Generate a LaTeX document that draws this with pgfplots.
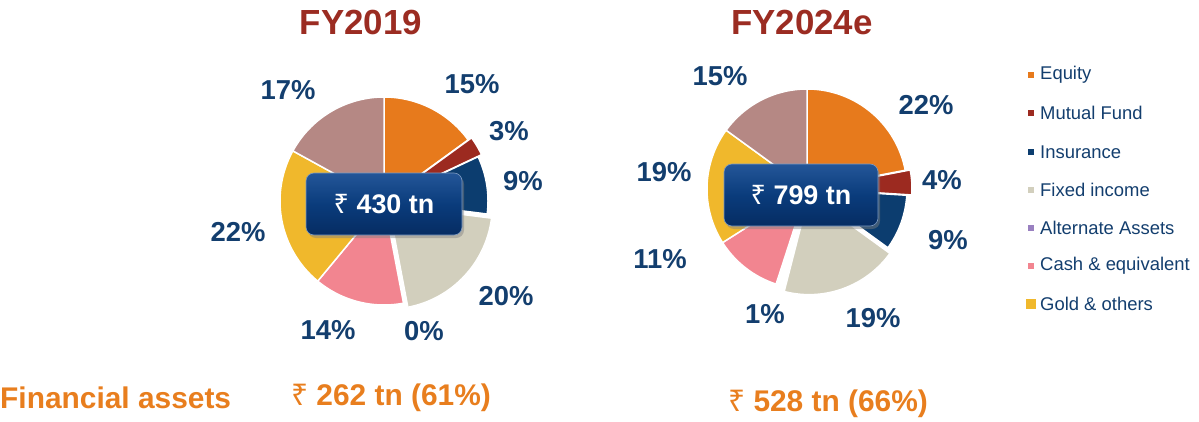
\documentclass[border=0pt]{standalone}
\usepackage{pgfplots}
\pgfplotsset{compat=1.18}
\usepackage{fontspec}
\setmainfont{Liberation Sans}
\newfontfamily\rupeefont{Noto Sans}
\usetikzlibrary{shadows}
\definecolor{cEq}{RGB}{231,122,28}
\definecolor{cMF}{RGB}{156,42,32}
\definecolor{cIns}{RGB}{12,61,111}
\definecolor{cFI}{RGB}{210,207,189}
\definecolor{cAlt}{RGB}{153,128,192}
\definecolor{cCash}{RGB}{242,133,144}
\definecolor{cGold}{RGB}{240,184,44}
\definecolor{cOth}{RGB}{181,136,132}
\definecolor{cTitle}{RGB}{155,44,34}
\definecolor{cNavy}{RGB}{19,62,110}
\definecolor{cOrange}{RGB}{232,126,30}
\definecolor{cBoxTop}{RGB}{36,86,152}
\definecolor{cBoxMid}{RGB}{10,60,124}
\definecolor{cBoxBot}{RGB}{6,44,98}
\newcommand{\Rs}{{\rupeefont ₹}}
% #1 cx, #2 cy, #3 radius, #4 start %, #5 end %, #6 colour, #7 explode offset
\newcommand{\slice}[7]{%
  \addplot[forget plot, fill=#6, draw=white, line width=1.5bp, line join=round,
    domain={3.6*#4}:{3.6*#5}, samples=60, variable=\t]
   ({#1+#7*sin(1.8*(#4+#5))+#3*sin(\t)}, {#2-#7*cos(1.8*(#4+#5))-#3*cos(\t)})
   -- (axis cs:{#1+#7*sin(1.8*(#4+#5))},{#2-#7*cos(1.8*(#4+#5))}) -- cycle;
}
\begin{document}
\begin{tikzpicture}
\begin{axis}[width=1199bp, height=419bp, scale only axis,
  xmin=0, xmax=1199, ymin=0, ymax=419, y dir=reverse,
  hide axis, clip=false]
\path (axis cs:0,0) rectangle (axis cs:1199,419);
% ---- FY2019: Equity 15, MF 3, Insurance 9, Fixed income 20, Alternate 0, Cash 14, Gold 22, Others 17
\slice{384}{201}{104}{0}{15}{cEq}{0}
\slice{384}{201}{104}{15}{18}{cMF}{4}
\slice{384}{201}{104}{18}{27}{cIns}{0}
\slice{384}{201}{104}{27}{47}{cFI}{6}
\slice{384}{201}{104}{47}{61}{cCash}{0}
\slice{384}{201}{104}{61}{83}{cGold}{0}
\slice{384}{201}{104}{83}{100}{cOth}{0}
% ---- FY2024e: Equity 22, MF 4, Insurance 9, Fixed income 19, Alternate 1, Cash 11, Gold 19, Others 15
\slice{807}{189}{100}{0}{22}{cEq}{0}
\slice{807}{189}{100}{22}{26}{cMF}{5}
\slice{807}{189}{100}{26}{35}{cIns}{0}
\slice{807}{189}{100}{35}{54}{cFI}{6}
\slice{807}{189}{100}{55}{66}{cCash}{0}
\slice{807}{189}{100}{66}{85}{cGold}{0}
\slice{807}{189}{100}{85}{100}{cOth}{0}
% centre boxes
\tikzset{boxstyle/.style={rounded corners=8bp, minimum width=#1, minimum height=62bp,
  top color=cBoxTop, bottom color=cBoxBot, middle color=cBoxMid, draw=cBoxTop!60!white, line width=0.6bp,
  drop shadow={opacity=0.45, shadow xshift=2bp, shadow yshift=-3bp},
  text=white, font=\fontsize{27}{30}\selectfont\bfseries}}
\node[boxstyle=156bp] at (axis cs:384,204) {\Rs{} 430 tn};
\node[boxstyle=154bp] at (axis cs:801,195) {\Rs{} 799 tn};
% titles
\node[text=cTitle, font=\fontsize{35}{40}\selectfont\bfseries] at (axis cs:361,22) {FY2019};
\node[text=cTitle, font=\fontsize{35}{40}\selectfont\bfseries] at (axis cs:802,22) {FY2024e};
% percentage labels
\begin{scope}[every node/.style={text=cNavy, font=\fontsize{27.5}{30}\selectfont\bfseries}]
\node at (axis cs:472,84) {15\%};
\node at (axis cs:509,131) {3\%};
\node at (axis cs:523,181) {9\%};
\node at (axis cs:506,296) {20\%};
\node at (axis cs:424,331) {0\%};
\node at (axis cs:328,330) {14\%};
\node at (axis cs:238,232) {22\%};
\node at (axis cs:288,90) {17\%};
\node at (axis cs:926,105) {22\%};
\node at (axis cs:942,180) {4\%};
\node at (axis cs:948,240) {9\%};
\node at (axis cs:873,318) {19\%};
\node at (axis cs:765,314) {1\%};
\node at (axis cs:660,259) {11\%};
\node at (axis cs:664,172) {19\%};
\node at (axis cs:720,76) {15\%};
\end{scope}
% legend
\addplot[forget plot, only marks, mark=square*, mark size=2.5bp, color=cEq] coordinates {(1031,75)};
\addplot[forget plot, only marks, mark=square*, mark size=2.5bp, color=cMF] coordinates {(1031,113)};
\addplot[forget plot, only marks, mark=square*, mark size=2.5bp, color=cIns] coordinates {(1031,152)};
\addplot[forget plot, only marks, mark=square*, mark size=2.5bp, color=cFI] coordinates {(1031,190)};
\addplot[forget plot, only marks, mark=square*, mark size=2.5bp, color=cAlt] coordinates {(1031,228)};
\addplot[forget plot, only marks, mark=square*, mark size=2.5bp, color=cCash] coordinates {(1031,266)};
\addplot[forget plot, only marks, mark=square*, mark size=4.5bp, color=cGold] coordinates {(1031,304)};
\begin{scope}[every node/.style={text=cNavy, anchor=west, inner sep=0pt, font=\fontsize{18.5}{22}\selectfont}]
\node at (axis cs:1040,75) {Equity};
\node at (axis cs:1040,113) {Mutual Fund};
\node at (axis cs:1040,152) {Insurance};
\node at (axis cs:1040,190) {Fixed income};
\node at (axis cs:1040,228) {Alternate Assets};
\node at (axis cs:1040,266) {Cash \& equivalent};
\node at (axis cs:1040,304) {Gold \& others};
\end{scope}
% bottom texts
\node[text=cOrange, anchor=west, inner sep=0pt, font=\fontsize{30}{34}\selectfont\bfseries] at (axis cs:0,398) {Financial assets};
\node[text=cOrange, font=\fontsize{30}{34}\selectfont\bfseries] at (axis cs:391,398) {\Rs{} 262 tn (61\%)};
\node[text=cOrange, font=\fontsize{30}{34}\selectfont\bfseries] at (axis cs:828,404) {\Rs{} 528 tn (66\%)};
\end{axis}
\end{tikzpicture}
\end{document}
